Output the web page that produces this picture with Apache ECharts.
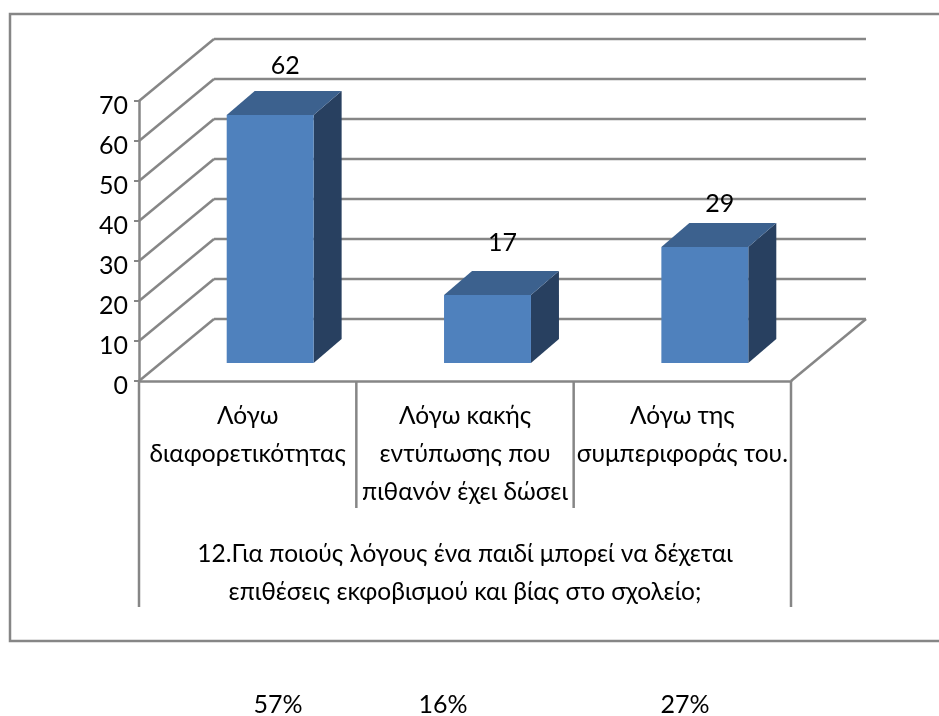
<!DOCTYPE html>
<html lang="el">
<head>
    <meta charset="UTF-8">
    <title>Chart</title>
    <style>
        html, body { margin: 0; padding: 0; background: #fff; }
        #chart { width: 939px; height: 716px; }
    </style>
    <script src="https://cdn.jsdelivr.net/npm/echarts@6/dist/echarts.min.js"></script>
</head>
<body>
<div id="chart"></div>
<script>
    var categories = ['Λόγω\nδιαφορετικότητας', 'Λόγω κακής\nεντύπωσης που\nπιθανόν έχει δώσει', 'Λόγω της\nσυμπεριφοράς του.'];
    var values = [62, 17, 29];
    var percents = ['57%', '16%', '27%'];
    var ticks = [0, 10, 20, 30, 40, 50, 60, 70];
    var axisTitle = '12.Για ποιούς λόγους ένα παιδί μπορεί να δέχεται\nεπιθέσεις εκφοβισμού και βίας στο σχολείο;';

    var FONT = 'Lato';
    var LINE = '#868686';
    var WALL_DX = 75, WALL_DY = -62;   // depth of the floor
    var BAR_DX = 28, BAR_DY = -24;     // depth of a bar
    var labelLift = [25, 28, 19];

    var chart = echarts.init(document.getElementById('chart'));

    function seg(x1, y1, x2, y2, w) {
        return {type: 'line', shape: {x1: x1, y1: y1, x2: x2, y2: y2}, style: {stroke: LINE, lineWidth: w || 2.5}};
    }

    // back wall and side wall lines
    function renderWall(params, api) {
        var v = api.value(0);
        var left = api.coord([0, v]);
        var right = api.coord([categories.length - 1, v]);
        var band = api.size([1, 0])[0];
        var x0 = left[0] - band / 2, x1 = right[0] + band / 2, y = left[1];
        var kids = [
            seg(x0, y, x0 + WALL_DX, y + WALL_DY),
            seg(x0 + WALL_DX, y + WALL_DY, x1 + WALL_DX, y + WALL_DY)
        ];
        if (v === 0) {
            kids.push(seg(x1 + WALL_DX, y + WALL_DY, x1, y));
        }
        return {type: 'group', children: kids};
    }

    function renderBar(params, api) {
        var i = api.value(0);
        var top = api.coord([i, api.value(1)]);
        var base = api.coord([i, 0]);
        var w = api.size([1, 0])[0] * 0.4;
        var x = top[0] + (WALL_DX - BAR_DX) / 2 - w / 2 - 1;
        var shift = (WALL_DY - BAR_DY) / 2 + 1;
        var t = top[1] + shift, b = base[1] + shift;
        return {
            type: 'group',
            children: [
                {type: 'polygon', shape: {points: [[x + w, t], [x + w + BAR_DX, t + BAR_DY], [x + w + BAR_DX, b + BAR_DY], [x + w, b]]}, style: {fill: '#284060'}},
                {type: 'polygon', shape: {points: [[x, t], [x + BAR_DX, t + BAR_DY], [x + w + BAR_DX, t + BAR_DY], [x + w, t]]}, style: {fill: '#3c618e'}},
                {type: 'rect', shape: {x: x, y: t, width: w, height: b - t}, style: {fill: '#4f81bd'}},
                {
                    type: 'text',
                    style: {
                        text: String(api.value(1)), x: x + w / 2 + BAR_DX / 2 + 1, y: t + BAR_DY - labelLift[i],
                        align: 'center', verticalAlign: 'middle', font: '25px "' + FONT + '"', fill: '#000'
                    }
                }
            ]
        };
    }

    // separators under the axis, short between the categories, long at the ends
    function renderBrackets(params, api) {
        var i = api.value(0);
        var c = api.coord([i, 0]);
        var band = api.size([1, 0])[0];
        var kids = [seg(c[0] + band / 2, c[1], c[0] + band / 2, c[1] + (i === categories.length - 1 ? 226 : 127))];
        if (i === 0) {
            kids.push(seg(c[0] - band / 2, c[1], c[0] - band / 2, c[1] + 226));
        }
        return {type: 'group', children: kids};
    }

    var option = {
        animation: false,
        backgroundColor: '#fff',
        textStyle: {fontFamily: FONT},
        grid: {left: 139, top: 101, width: 652, height: 280, containLabel: false},
        xAxis: {
            type: 'category',
            data: categories,
            axisLine: {lineStyle: {color: LINE, width: 2.5}},
            axisTick: {show: false},
            axisLabel: {interval: 0, color: '#000', fontSize: 24.5, lineHeight: 38, margin: 16, fontFamily: FONT},
            name: axisTitle,
            nameLocation: 'middle',
            nameGap: 154,
            nameTextStyle: {color: '#000', fontSize: 24.5, lineHeight: 38, fontFamily: FONT}
        },
        yAxis: {
            type: 'value',
            min: 0,
            max: 70,
            interval: 10,
            axisLine: {show: true, lineStyle: {color: LINE, width: 2.5}},
            axisTick: {show: true, length: 5, lineStyle: {color: LINE, width: 2}},
            splitLine: {show: false},
            axisLabel: {
                margin: 11,
                formatter: '{v|{value}}',
                rich: {v: {color: '#000', fontSize: 25, fontFamily: FONT, padding: [9, 0, 0, 0]}}
            }
        },
        series: [
            {type: 'custom', data: ticks.map(function (t) { return [t]; }), renderItem: renderWall, encode: {y: 0}, silent: true, z: 1},
            {type: 'custom', data: categories.map(function (c, i) { return [i]; }), renderItem: renderBrackets, encode: {x: 0}, silent: true, clip: false, z: 1},
            {type: 'custom', data: values.map(function (v, i) { return [i, v]; }), renderItem: renderBar, encode: {x: 0, y: 1}, z: 2}
        ],
        graphic: [
            {type: 'rect', z: -1, shape: {x: 10, y: 14, width: 940, height: 627}, style: {fill: 'none', stroke: LINE, lineWidth: 2.5}}
        ].concat(percents.map(function (p, i) {
            return {
                type: 'text', x: [278, 443, 685][i], y: 705,
                style: {text: p, align: 'center', verticalAlign: 'middle', font: '25px "' + FONT + '"', fill: '#000'}
            };
        }))
    };
    chart.setOption(option);
</script>
</body>
</html>
